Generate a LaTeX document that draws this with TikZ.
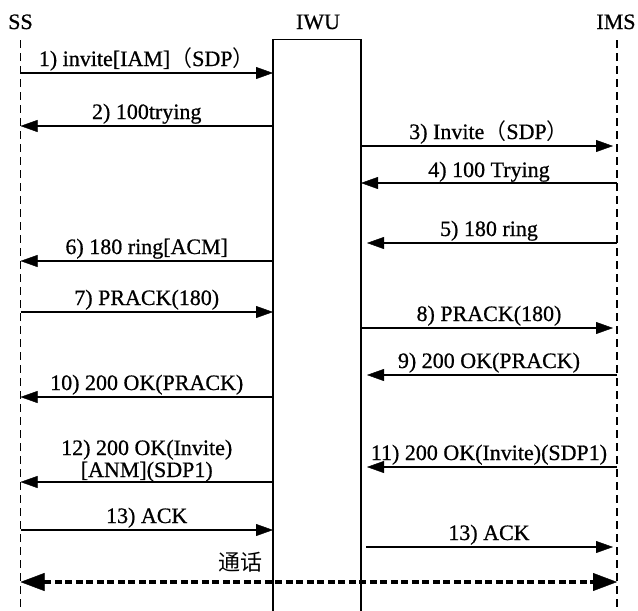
\documentclass[tikz,border=0pt]{standalone}
\usepackage{fontspec}
\setmainfont{Liberation Serif}[AutoFakeBold=0.7]
\newfontfamily\cjk{Noto Sans CJK SC}
\newcommand{\fwl}{{\cjk\mdseries （}}
\newcommand{\fwr}{{\cjk\mdseries ）}}
\usetikzlibrary{arrows.meta}
\begin{document}
\begin{tikzpicture}[x=1pt,y=-1pt,
  msg/.style={line width=1.8pt,-{Triangle[length=17pt,width=12pt,line width=0.4pt]}},
  life/.style={line width=1.6pt,dash pattern=on 8pt off 5pt},
  iwubox/.style={line width=1.8pt},
  lbl/.style={font=\fontsize{22}{22}\selectfont\bfseries,anchor=base,inner sep=0pt,align=center},
  talk/.style={line width=3.8pt,dash pattern=on 7pt off 3.5pt,
    {Triangle[length=24pt,width=18pt,line width=0.4pt]}-{Triangle[length=24pt,width=18pt,line width=0.4pt]}}]
\useasboundingbox[fill=white] (0,0) rectangle (638,611);
% lifeline heads
\node[lbl] (ssl) at (20.5,29) {SS};
\node[lbl] (iwul) at (318,29) {IWU};
\node[lbl] (imsl) at (616,29) {IMS};
\coordinate (SS) at (20.5,40);
\coordinate (IL) at (273,39.5);
\coordinate (IR) at (361,39.5);
\coordinate (IMS) at (617,40);
\coordinate (bot) at (0,611);
\draw[life] (SS) -- (SS |- bot);
\draw[life] (IMS) -- (IMS |- bot);
\draw[iwubox] (IL |- bot) -- (IL) -- (IR) -- (IR |- bot);
% messages
\draw[msg] (SS |- 0,73) -- node[lbl,yshift=7pt] (m1) {1) invite[IAM]\fwl SDP\fwr} (IL |- 0,73);
\draw[msg] (IL |- 0,126) -- node[lbl,yshift=7pt] (m2) {2) 100trying} (SS |- 0,126);
\draw[msg,shorten >=4pt] (IR |- 0,146) -- node[lbl,yshift=7pt] (m3) {3) Invite\fwl SDP\fwr} (IMS |- 0,146);
\draw[msg] (IMS |- 0,183) -- node[lbl,yshift=6pt] (m4) {4) 100 Trying} (IR |- 0,183);
\draw[msg,shorten >=6pt] (IMS |- 0,243) -- node[lbl,yshift=7pt] (m5) {5) 180 ring} (IR |- 0,243);
\draw[msg] (IL |- 0,261) -- node[lbl,yshift=7pt] (m6) {6) 180 ring[ACM]} (SS |- 0,261);
\draw[msg] (SS |- 0,312) -- node[lbl,yshift=7pt] (m7) {7) PRACK(180)} (IL |- 0,312);
\draw[msg,shorten >=4pt] (IR |- 0,328) -- node[lbl,yshift=7pt] (m8) {8) PRACK(180)} (IMS |- 0,328);
\draw[msg,shorten >=6pt] (IMS |- 0,375) -- node[lbl,yshift=7pt] (m9) {9) 200 OK(PRACK)} (IR |- 0,375);
\draw[msg] (IL |- 0,397) -- node[lbl,yshift=7pt] (m10) {10) 200 OK(PRACK)} (SS |- 0,397);
\draw[msg,shorten >=6pt] (IMS |- 0,467) -- node[lbl,yshift=7pt] (m11) {11) 200 OK(Invite)(SDP1)} (IR |- 0,467);
\draw[msg] (IL |- 0,482) -- node[lbl,yshift=5pt] (m12) {12) 200 OK(Invite)\\{[}ANM{]}(SDP1)} (SS |- 0,482);
\draw[msg] (SS |- 0,530) -- node[lbl,yshift=7pt] (m13) {13) ACK} (IL |- 0,530);
\draw[msg,shorten <=5pt,shorten >=4pt] (IR |- 0,547) -- node[lbl,yshift=7pt] (m14) {13) ACK} (IMS |- 0,547);
\draw[talk] (SS |- 0,582) -- (IMS |- 0,582);
\node[font=\cjk\fontsize{22}{22}\selectfont,inner sep=0pt] (talkl) at (240,562) {通话};
\end{tikzpicture}
\end{document}
